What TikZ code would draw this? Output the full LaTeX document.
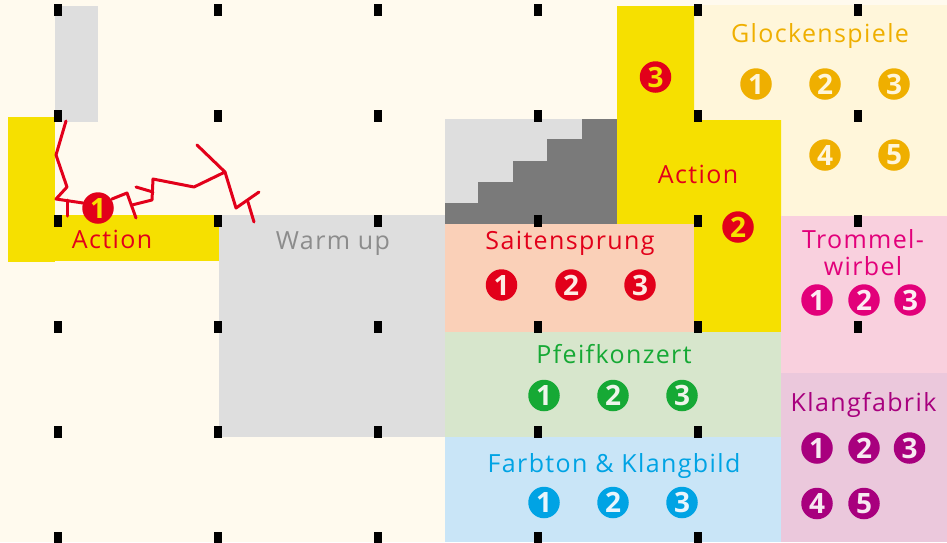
\documentclass[tikz,border=0pt]{standalone}
\usepackage{fontspec}
\setmainfont{Open Sans}
\newfontfamily\lblfont{Open Sans}[LetterSpace=5.5]
\definecolor{bgcream}{HTML}{FFFAEE}
\definecolor{lgray}{HTML}{DEDEDE}
\definecolor{dgray}{HTML}{7A7A7A}
\definecolor{yel}{HTML}{F6E000}
\definecolor{redc}{HTML}{E2001A}
\definecolor{glbg}{HTML}{FFF6DA}
\definecolor{glfg}{HTML}{EFAF00}
\definecolor{sabg}{HTML}{FAD0B8}
\definecolor{pfbg}{HTML}{D7E6CC}
\definecolor{pffg}{HTML}{16A935}
\definecolor{fabg}{HTML}{C9E5F7}
\definecolor{fafg}{HTML}{00A3E4}
\definecolor{trbg}{HTML}{F9D0DE}
\definecolor{trfg}{HTML}{E2007A}
\definecolor{klbg}{HTML}{EBC8DC}
\definecolor{klfg}{HTML}{A8007E}
\definecolor{wugray}{HTML}{8C8C8C}
\begin{document}
\begin{tikzpicture}[x=1pt,y=-1pt,
  lbl/.style={anchor=base, inner sep=0pt, font=\lblfont\fontsize{25}{27}\selectfont},
  num/.style={circle, inner sep=0pt, minimum size=31.5pt, font=\fontsize{28}{28}\selectfont\bfseries},
  crack/.style={draw=redc, line width=3pt, line cap=round, line join=round}]
\useasboundingbox (0,0) rectangle (947,542);
\fill[bgcream] (0,0) rectangle (947,542);
% boxes
\fill[lgray] (55,6) rectangle (98,122);
\fill[yel] (8,117) rectangle (55,262);
\fill[yel] (55,215) rectangle (219,261);
\fill[lgray] (219,215) rectangle (445,437);
\fill[lgray] (445,119) rectangle (617,224);
\fill[dgray] (617,119) -- (582,119) -- (582,139) -- (547,139) -- (547,161) -- (513,161)
  -- (513,182) -- (478,182) -- (478,203) -- (445,203) -- (445,224) -- (617,224) -- cycle;
\fill[glbg] (694,5) rectangle (947,216);
\fill[yel] (617,6) -- (694,6) -- (694,120) -- (781,120) -- (781,332) -- (694,332) -- (694,224) -- (617,224) -- cycle;
\fill[sabg] (445,224) rectangle (694,332);
\fill[trbg] (781,216) rectangle (947,373);
\fill[klbg] (781,373) rectangle (947,542);
\fill[pfbg] (445,332) rectangle (781,437);
\fill[fabg] (445,437) rectangle (781,542);
% crack
\draw[crack] (66,121) -- (56,155) -- (67,187) -- (56,199) -- (83,203);
\draw[crack] (67,200) -- (67,216);
\draw[crack] (112,199) -- (127,193) -- (136,218);
\draw[crack] (132,205) -- (152,200) -- (153,179) -- (194,187) -- (225,172) -- (197,145);
\draw[crack] (136,187) -- (153,192);
\draw[crack] (225,172) -- (236,208) -- (259,192);
\draw[crack] (248,202) -- (254,222);
% markers
\foreach \mx in {58,218,378,538,698,858}
  \foreach \my in {10,115.5,221,326.5}
    \fill[black] (\mx-4,\my-6) rectangle (\mx+4,\my+6);
\foreach \mx in {58,218,378,538,698}
  \foreach \my in {432,537.5}
    \fill[black] (\mx-4,\my-6) rectangle (\mx+4,\my+6);
% labels
\node[lbl, text=redc] (act1) at (112,248) {Action};
\node[num, fill=redc, text=yel] (a1) at (98,208) {1};
\node[lbl, text=wugray] (warm) at (333,249) {Warm up};
\node[lbl, text=redc] (sait) at (570,249) {Saitensprung};
\node[num, fill=redc, text=sabg!40!white] (s1) at (501.5,285) {1};
\node[num, fill=redc, text=sabg!40!white] (s2) at (571,285) {2};
\node[num, fill=redc, text=sabg!40!white] (s3) at (640,285) {3};
\node[lbl, text=redc] (act2) at (698,183) {Action};
\node[num, fill=redc, text=yel] (a2) at (738,227) {2};
\node[num, fill=redc, text=yel] (a3) at (655.5,77) {3};
\node[lbl, text=glfg] (glock) at (820,42) {Glockenspiele};
\node[num, fill=glfg, text=glbg] (g1) at (756,84) {1};
\node[num, fill=glfg, text=glbg] (g2) at (825,84) {2};
\node[num, fill=glfg, text=glbg] (g3) at (894,84) {3};
\node[num, fill=glfg, text=glbg] (g4) at (825,155) {4};
\node[num, fill=glfg, text=glbg] (g5) at (894,155) {5};
\node[lbl, text=trfg] (trom1) at (863,248) {Trommel-};
\node[lbl, text=trfg] (trom2) at (863,275) {wirbel};
\node[num, fill=trfg, text=trbg!40!white] (t1) at (817,300) {1};
\node[num, fill=trfg, text=trbg!40!white] (t2) at (864,300) {2};
\node[num, fill=trfg, text=trbg!40!white] (t3) at (910,300) {3};
\node[lbl, text=klfg] (klang) at (863.5,411) {Klangfabrik};
\node[num, fill=klfg, text=klbg!40!white] (k1) at (817,448) {1};
\node[num, fill=klfg, text=klbg!40!white] (k2) at (864,448) {2};
\node[num, fill=klfg, text=klbg!40!white] (k3) at (909.5,448) {3};
\node[num, fill=klfg, text=klbg!40!white] (k4) at (817,503.5) {4};
\node[num, fill=klfg, text=klbg!40!white] (k5) at (864,503.5) {5};
\node[lbl, text=pffg] (pfeif) at (614,363) {Pfeifkonzert};
\node[num, fill=pffg, text=pfbg!40!white] (p1) at (544,395.5) {1};
\node[num, fill=pffg, text=pfbg!40!white] (p2) at (613,395.5) {2};
\node[num, fill=pffg, text=pfbg!40!white] (p3) at (682,395.5) {3};
\node[lbl, text=fafg] (farb) at (614,472) {Farbton \& Klangbild};
\node[num, fill=fafg, text=fabg!40!white] (f1) at (544,502.5) {1};
\node[num, fill=fafg, text=fabg!40!white] (f2) at (613,502.5) {2};
\node[num, fill=fafg, text=fabg!40!white] (f3) at (682,502.5) {3};
\end{tikzpicture}
\end{document}
